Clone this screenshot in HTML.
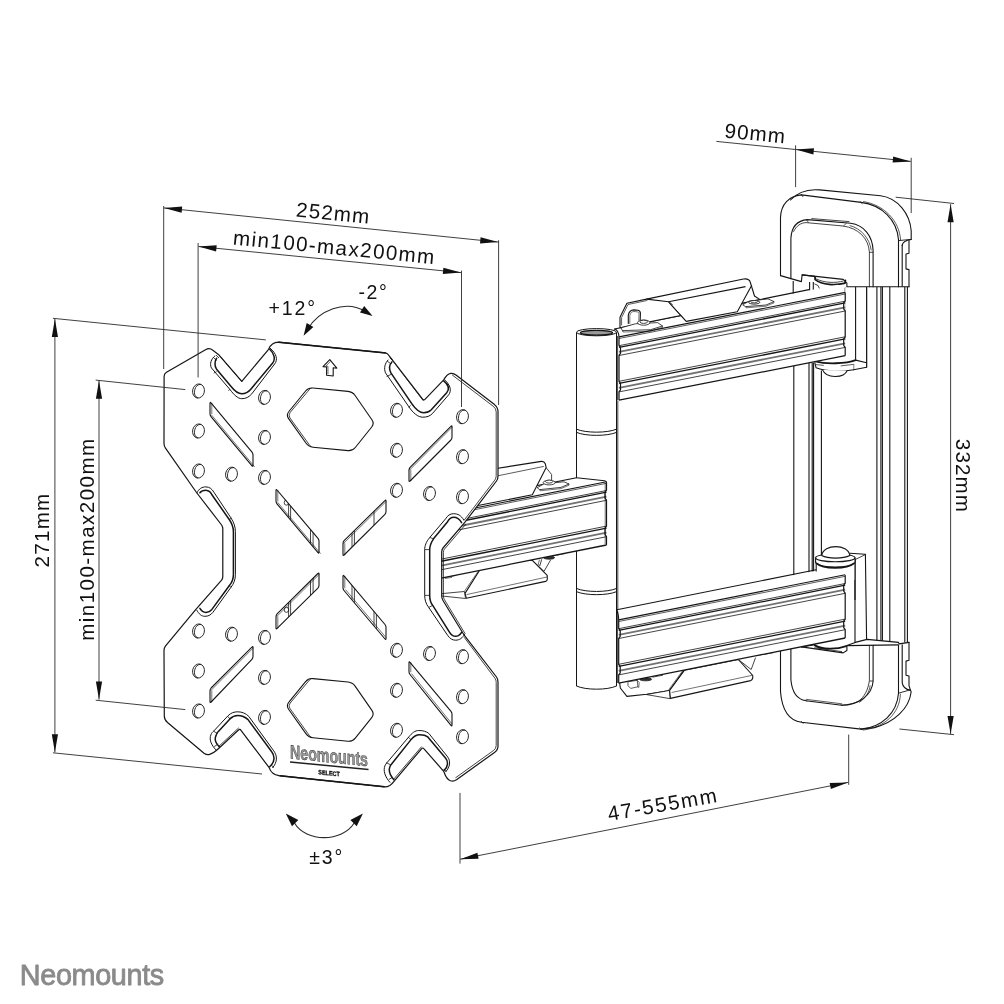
<!DOCTYPE html>
<html><head><meta charset="utf-8"><title>Neomounts dimensions</title>
<style>html,body{margin:0;padding:0;background:#fff}svg{display:block;filter:grayscale(1)}text{font-family:"Liberation Sans",sans-serif}</style></head>
<body>
<svg width="1004" height="1004" viewBox="0 0 1004 1004">
<rect width="1004" height="1004" fill="#fff"/>
<line x1="876.9" y1="286.5" x2="876.9" y2="643" stroke="#151515" stroke-width="1.1" />
<line x1="880.9" y1="286.5" x2="880.9" y2="643" stroke="#151515" stroke-width="1.1" />
<line x1="882.4" y1="286.5" x2="882.4" y2="643" stroke="#151515" stroke-width="1.1" />
<line x1="889.8" y1="286.5" x2="889.8" y2="643" stroke="#151515" stroke-width="1.1" />
<line x1="904.8" y1="286.5" x2="904.8" y2="643" stroke="#151515" stroke-width="1.1" />
<line x1="907.4" y1="286.5" x2="907.4" y2="643" stroke="#151515" stroke-width="1.1" />
<line x1="793.8" y1="365" x2="793.8" y2="580" stroke="#151515" stroke-width="1.1" />
<line x1="809" y1="362.7" x2="809" y2="577" stroke="#151515" stroke-width="1.1" />
<line x1="812.2" y1="362.7" x2="812.2" y2="577" stroke="#151515" stroke-width="1.1" />
<line x1="813.6" y1="362.7" x2="813.6" y2="577" stroke="#151515" stroke-width="1.1" />
<line x1="821.4" y1="370.4" x2="821.4" y2="556" stroke="#151515" stroke-width="1.1" />
<line x1="793.2" y1="281" x2="793.2" y2="300" stroke="#151515" stroke-width="1.1" />
<line x1="809.6" y1="282" x2="809.6" y2="296" stroke="#151515" stroke-width="1.1" />
<line x1="813.3" y1="282" x2="813.3" y2="296" stroke="#151515" stroke-width="1.1" />
<path d="M845.2,288 L845.2,340 M855.6,288 L855.6,360.1 M866.6,288 L866.6,367.2" fill="none" stroke="#151515" stroke-width="1.1" stroke-linejoin="round" stroke-linecap="round" />
<path d="M845.2,288 L866.6,288 L866.6,367.2 L853.6,369.8 L853.6,364 L845.2,362 Z" fill="white" stroke="white" stroke-width="0.01" stroke-linejoin="round" stroke-linecap="round" />
<path d="M855.6,287 L855.6,360.1 L866.6,362.7 M866.6,287 L866.6,367.2 L853.6,369.8 L853.6,364" fill="none" stroke="#151515" stroke-width="1.1" stroke-linejoin="round" stroke-linecap="round" />
<path d="M814.8,362 L816.1,367.8 C826,371.5 842,372 853.6,369.8 L853.6,364 L855.6,360.1 L845.2,352 L815,358 Z" fill="white" stroke="white" stroke-width="0.01" stroke-linejoin="round" stroke-linecap="round" />
<path d="M814.8,362.7 L816.1,367.8 C826,371.5 842,372 853.6,369.8" fill="none" stroke="#151515" stroke-width="1.1" stroke-linejoin="round" stroke-linecap="round" />
<path d="M815.4,361.4 C826,364.4 846,363.8 855.6,360.1" fill="none" stroke="#151515" stroke-width="1.8" stroke-linejoin="round" stroke-linecap="round" />
<line x1="816" y1="364.6" x2="823.8" y2="365.4" stroke="#151515" stroke-width="0.7" />
<line x1="840.7" y1="365.9" x2="853.6" y2="364.4" stroke="#151515" stroke-width="0.7" />
<path d="M822.6,369.9 C826,378.5 844,378.5 847.2,370.5" fill="white" stroke="#151515" stroke-width="1.1" stroke-linejoin="round" stroke-linecap="round" />
<path d="M849.9,553.3 L865.4,554.3 L866.6,642 L846,646 L846,560 Z" fill="white" stroke="white" stroke-width="0.01" stroke-linejoin="round" stroke-linecap="round" />
<path d="M849.9,553.3 L865.4,554.3 L866.6,640 M855,559.9 L855,643" fill="none" stroke="#151515" stroke-width="1.1" stroke-linejoin="round" stroke-linecap="round" />
<path d="M855,559.6 L865.4,554.6" fill="none" stroke="#151515" stroke-width="0.8" stroke-linejoin="round" stroke-linecap="round" />
<path d="M780.5,275.6 L780.5,217.4 C781,204 789,196 795,193.5 L819.7,189.9 L880.6,195.7 C898,198 910,214 911.2,230.8 L911.2,239.5 L909,240.5 L909,286.8 L846.9,286.8 L846.9,283.1 L843.2,279.4 L802.1,274.9 L801.4,281.6 Z" fill="white" stroke="white" stroke-width="0.01" stroke-linejoin="round" stroke-linecap="round" />
<path d="M790.5,200 C796,194 806,188.6 819.7,189.9 L880.6,195.7 C898,198 910,214 911.2,230.8 L911.2,239.5" fill="none" stroke="#151515" stroke-width="1.1" stroke-linejoin="round" stroke-linecap="round" />
<path d="M909,240.5 L909,253.2 L906,254 L906,268.9 L909,269.6 L909,286.8" fill="none" stroke="#151515" stroke-width="1.1" stroke-linejoin="round" stroke-linecap="round" />
<line x1="902.2" y1="244.5" x2="902.2" y2="286.8" stroke="#151515" stroke-width="1.1" />
<path d="M911.2,239.5 C905,240.3 902.5,242 902.2,245.5" fill="none" stroke="#151515" stroke-width="1.1" stroke-linejoin="round" stroke-linecap="round" />
<path d="M780.5,275.6 L780.5,217.4 C781,204 789,196 801.4,194.9 L861.1,202.4 C882,205 897,220 898.5,239.8 L898.5,286.8" fill="none" stroke="#151515" stroke-width="1.1" stroke-linejoin="round" stroke-linecap="round" />
<path d="M863.5,201.6 C884.5,205 899.6,221 900.6,240.2" fill="none" stroke="#151515" stroke-width="0.7" stroke-linejoin="round" stroke-linecap="round" />
<line x1="898.5" y1="240.6" x2="911" y2="239.4" stroke="#151515" stroke-width="0.9" />
<line x1="801" y1="194.2" x2="803.2" y2="197" stroke="#151515" stroke-width="0.8" />
<line x1="859.8" y1="201.5" x2="862.4" y2="203.8" stroke="#151515" stroke-width="0.8" />
<path d="M790.9,278.6 L790.9,238.3 C791.5,227 797,220.5 807.4,219.6 L850.7,223.3 C864,225 872.5,236 873.1,250.2 L873.1,286.8" fill="none" stroke="#151515" stroke-width="1.1" stroke-linejoin="round" stroke-linecap="round" />
<path d="M793.6,231.5 C796.5,225.5 801,222.8 806,222.6 L843,226 C858,228 868.5,238 869.4,252 L869.4,286.8" fill="none" stroke="#151515" stroke-width="0.8" stroke-linejoin="round" stroke-linecap="round" />
<path d="M811.8,218.6 L849,221.6" fill="none" stroke="#151515" stroke-width="0.8" stroke-linejoin="round" stroke-linecap="round" />
<path d="M850,225.6 C861,228.5 869.5,238 871.2,250" fill="none" stroke="#151515" stroke-width="0.7" stroke-linejoin="round" stroke-linecap="round" />
<line x1="869.4" y1="252.3" x2="873.1" y2="252.3" stroke="#151515" stroke-width="0.8" />
<line x1="806.5" y1="219.8" x2="808.5" y2="222.6" stroke="#151515" stroke-width="0.7" />
<line x1="846.5" y1="223.2" x2="843.4" y2="226" stroke="#151515" stroke-width="0.7" />
<path d="M780.5,275.6 L801.4,281.6 L802.1,274.9 L814.8,276.4" fill="none" stroke="#151515" stroke-width="1.1" stroke-linejoin="round" stroke-linecap="round" />
<path d="M802.1,274.9 L843.2,279.4 L846.9,283.1 L846.9,286.8 L909,286.8" fill="none" stroke="#151515" stroke-width="1.1" stroke-linejoin="round" stroke-linecap="round" />
<path d="M815,277 L815.2,279.6 C822,285 836,285.6 845,283.2 L845.4,280.4" fill="none" stroke="#151515" stroke-width="1.8" stroke-linejoin="round" stroke-linecap="round" />
<path d="M816.5,279.0 C824,283 836,283.3 843.2,281.0" fill="none" stroke="#151515" stroke-width="0.8" stroke-linejoin="round" stroke-linecap="round" />
<path d="M819.5,288.6 L818,285.5 L814.8,284" fill="none" stroke="#151515" stroke-width="0.8" stroke-linejoin="round" stroke-linecap="round" />
<path d="M780.5,646 L780.5,691.7 C782,710 789,720.5 801.4,722.3 L861.1,729.1 L874.6,727.6 C894,722.5 909,709 911.2,691.7 L910.4,690.2 L909,685.7 L909,642.4 L898.5,642.4 L867.1,639.4 L846.9,645.4 Z" fill="white" stroke="white" stroke-width="0.01" stroke-linejoin="round" stroke-linecap="round" />
<path d="M861.1,729.1 L874.6,727.6 C894,722.5 909,709 911.2,691.7 L910.4,690.2" fill="none" stroke="#151515" stroke-width="1.1" stroke-linejoin="round" stroke-linecap="round" />
<path d="M909,642.4 L909,660.3 L906,661.1 L906,675.3 L909,676 L909,685.7 L910.4,690.2" fill="none" stroke="#151515" stroke-width="1.1" stroke-linejoin="round" stroke-linecap="round" />
<path d="M902.2,644.7 L902.2,682.8 C903,687.5 906,689.5 910.4,690.2" fill="none" stroke="#151515" stroke-width="1.1" stroke-linejoin="round" stroke-linecap="round" />
<line x1="898.5" y1="644.7" x2="898.5" y2="693.2" stroke="#151515" stroke-width="1.1" />
<line x1="898.5" y1="693.2" x2="910.4" y2="689.8" stroke="#151515" stroke-width="0.9" />
<path d="M780.5,646 L780.5,691.7 C782,710 789,720.5 801.4,722.3 L861.1,729.1 C882,727 897,713 898.5,693.2" fill="none" stroke="#151515" stroke-width="1.1" stroke-linejoin="round" stroke-linecap="round" />
<path d="M863.5,730 C884.5,727.3 899.8,713.5 900.4,694.2" fill="none" stroke="#151515" stroke-width="0.7" stroke-linejoin="round" stroke-linecap="round" />
<line x1="801" y1="721" x2="803.4" y2="723.8" stroke="#151515" stroke-width="0.8" />
<line x1="859.5" y1="727.6" x2="862.2" y2="730.2" stroke="#151515" stroke-width="0.8" />
<path d="M846.9,645.4 L855.2,642.4 L867.1,639.4 L898.5,642.4 L899.2,643.9 L909,642.4" fill="none" stroke="#151515" stroke-width="1.1" stroke-linejoin="round" stroke-linecap="round" />
<line x1="846.9" y1="645.6" x2="898.5" y2="644.9" stroke="#151515" stroke-width="1.1" />
<path d="M790.9,648.4 L790.9,679.8 C792,692 797,699.5 805.9,700.7 L841.7,705.2 C858,705 872,696 873.1,681.3 L873.1,645.4" fill="none" stroke="#151515" stroke-width="1.1" stroke-linejoin="round" stroke-linecap="round" />
<path d="M869.4,645.4 L869.4,680.5 C868,690 864.5,697 858.2,701.4 C853,703.8 848,704.8 841.7,705.2" fill="none" stroke="#151515" stroke-width="0.8" stroke-linejoin="round" stroke-linecap="round" />
<path d="M859.6,702.2 C865.5,698 869.5,692 870.1,685.7" fill="none" stroke="#151515" stroke-width="0.7" stroke-linejoin="round" stroke-linecap="round" />
<line x1="869.4" y1="681" x2="873.1" y2="681" stroke="#151515" stroke-width="0.8" />
<line x1="805.3" y1="699.6" x2="807" y2="701.6" stroke="#151515" stroke-width="0.7" />
<path d="M806.5,699.4 L841.8,703.8" fill="none" stroke="#151515" stroke-width="0.7" stroke-linejoin="round" stroke-linecap="round" />
<line x1="840.6" y1="704.2" x2="842.4" y2="706" stroke="#151515" stroke-width="0.7" />
<path d="M801.4,646.9 L814.8,644.6" fill="none" stroke="#151515" stroke-width="1.1" stroke-linejoin="round" stroke-linecap="round" />
<path d="M801.4,646.9 L843.2,652.9 L846.9,650.5 L846.9,645.4" fill="none" stroke="#151515" stroke-width="1.1" stroke-linejoin="round" stroke-linecap="round" />
<path d="M814.8,647.8 L841.7,651.6" fill="none" stroke="#151515" stroke-width="0.8" stroke-linejoin="round" stroke-linecap="round" />
<path d="M814.8,645.4 C822,649.6 836,649.8 846.2,646.1" fill="none" stroke="#151515" stroke-width="1.8" stroke-linejoin="round" stroke-linecap="round" />
<path d="M619.3,680 L620.3,688 L626.9,696.4 L646.8,694.3 L669.8,690.6 L684.2,670 L660,672 Z" fill="white" stroke="#151515" stroke-width="1.1" stroke-linejoin="round" stroke-linecap="round" />
<path d="M628.3,681.6 L637.3,680.4 L637.9,686.8 L630.7,688.4 L628.3,686 Z" fill="none" stroke="#151515" stroke-width="0.7" stroke-linejoin="round" stroke-linecap="round" />
<path d="M637.3,680.4 L639.2,682.5 L638.8,687.5 L637.9,686.8" fill="none" stroke="#151515" stroke-width="0.6" stroke-linejoin="round" stroke-linecap="round" />
<ellipse cx="645.6" cy="679.3" rx="6" ry="1.5" fill="#333" stroke="#151515" stroke-width="0.8"/>
<line x1="652.5" y1="677.2" x2="663" y2="675.2" stroke="#151515" stroke-width="0.7" />
<path d="M646.8,694.5 L669.6,690.4 L670.3,698.3 Z" fill="white" stroke="#151515" stroke-width="0.8" stroke-linejoin="round" stroke-linecap="round" />
<path d="M684.5,670.2 L669.6,690.4 L670.4,698.4 L750.6,680.6 C752.4,680 753,678.5 752.8,675.5 L738.3,659.5 Z" fill="white" stroke="#151515" stroke-width="1.1" stroke-linejoin="round" stroke-linecap="round" />
<line x1="682.9" y1="670.4" x2="668.4" y2="690.2" stroke="#151515" stroke-width="0.6" />
<line x1="671.6" y1="692.5" x2="752.2" y2="675.3" stroke="#151515" stroke-width="0.6" />
<line x1="755.8" y1="655.6" x2="773.7" y2="652.2" stroke="#555" stroke-width="1.4" />
<path d="M738.3,659.5 L751.2,669.5 L755.4,658" fill="none" stroke="#151515" stroke-width="0.8" stroke-linejoin="round" stroke-linecap="round" />
<path d="M614.4,329 L619,336.9 L845.2,292.4 L838,284.8 Z" fill="white" stroke="white" stroke-width="0.01" stroke-linejoin="round" stroke-linecap="round" />
<line x1="614.4" y1="329" x2="809" y2="289.6" stroke="#151515" stroke-width="1.1" />
<path d="M619,336.9 L845.2,292.4 L845.2,355.7 L619,400.2 Z" fill="white" stroke="white" stroke-width="0.01" stroke-linejoin="round" stroke-linecap="round" />
<line x1="619" y1="336.9" x2="845.2" y2="292.4" stroke="#151515" stroke-width="1.1" />
<line x1="619" y1="338.5" x2="845.2" y2="294" stroke="#151515" stroke-width="0.7" />
<line x1="619" y1="345.7" x2="845.2" y2="301.2" stroke="#151515" stroke-width="0.8" />
<line x1="619" y1="347.4" x2="845.2" y2="302.9" stroke="#151515" stroke-width="1.3" />
<line x1="619" y1="351.9" x2="845.2" y2="307.4" stroke="#727272" stroke-width="1.8" />
<line x1="619" y1="355.5" x2="845.2" y2="311" stroke="#151515" stroke-width="0.8" />
<line x1="619" y1="381.3" x2="845.2" y2="336.8" stroke="#151515" stroke-width="0.8" />
<line x1="619" y1="383.4" x2="845.2" y2="338.9" stroke="#151515" stroke-width="1.3" />
<line x1="619" y1="387.8" x2="845.2" y2="343.3" stroke="#727272" stroke-width="1.8" />
<line x1="619" y1="391.9" x2="845.2" y2="347.4" stroke="#151515" stroke-width="0.8" />
<line x1="619" y1="400.2" x2="845.2" y2="355.7" stroke="#151515" stroke-width="1.3" />
<path d="M619,337.7 L619,345.4 L620.5,347.4 L620.5,353.4 L619,355.4 L619,381.4 L620.5,383.4 L620.5,389.9 L619,391.9 L619,399.7" fill="none" stroke="#151515" stroke-width="1.2" stroke-linejoin="round" stroke-linecap="round" />
<line x1="617.6" y1="336" x2="617.6" y2="400.5" stroke="#151515" stroke-width="0.8" />
<path d="M845.2,293.2 L845.2,300.9 L843.7,302.9 L843.7,308.9 L845.2,310.9 L845.2,336.9 L843.7,338.9 L843.7,345.4 L845.2,347.4 L845.2,355.2" fill="none" stroke="#151515" stroke-width="1.2" stroke-linejoin="round" stroke-linecap="round" />
<path d="M614.4,329 C617,329.5 618.6,332 619,336.9" fill="none" stroke="#151515" stroke-width="1.1" stroke-linejoin="round" stroke-linecap="round" />
<path d="M620,327.8 L620,317.2 L626.9,303.2 L646.5,299.1 L743.5,279 C747.5,278.5 749.5,279.5 750.2,282 L754.5,296 L760,299.6 Z" fill="white" stroke="#151515" stroke-width="1.1" stroke-linejoin="round" stroke-linecap="round" />
<path d="M621.6,325 L621.6,317.6 L628,304.5 L647,300.5" fill="none" stroke="#151515" stroke-width="0.7" stroke-linejoin="round" stroke-linecap="round" />
<path d="M668.6,301.8 L671.6,305.3 L686.2,321.4 L737.3,311.8 L751.6,285.5" fill="white" stroke="#151515" stroke-width="1.1" stroke-linejoin="round" stroke-linecap="round" />
<line x1="668.6" y1="301.8" x2="745.5" y2="286.6" stroke="#151515" stroke-width="1.1" />
<line x1="646.5" y1="299.1" x2="668.6" y2="301.8" stroke="#151515" stroke-width="1.1" />
<line x1="670.2" y1="302.2" x2="672.8" y2="305" stroke="#151515" stroke-width="0.6" />
<path d="M669.8,303.2 L685.4,320.4" fill="none" stroke="#151515" stroke-width="0.6" stroke-linejoin="round" stroke-linecap="round" />
<path d="M628.3,323.5 L628.3,315.1 C629,311.5 631,310 633.9,309.9 L638,310.3 C640,310.8 640.6,312 640.4,314 L640.2,320" fill="none" stroke="#151515" stroke-width="1.1" stroke-linejoin="round" stroke-linecap="round" />
<path d="M629.8,323.5 L629.8,315.6 C630.3,312.8 632,311.5 634,311.5 L637.5,311.9 C638.8,312.2 639,313 639,314.4 L638.8,320" fill="none" stroke="#151515" stroke-width="0.6" stroke-linejoin="round" stroke-linecap="round" />
<path d="M621.4,327.7 L635.3,323.8 L657.6,322.6 L662.5,326 L650.6,329.7 L622.8,330.6 Z" fill="white" stroke="#151515" stroke-width="0.8" stroke-linejoin="round" stroke-linecap="round" />
<path d="M622.8,330.6 L622.8,332 L650.6,331.2 L662.5,327.4 L662.5,326" fill="none" stroke="#151515" stroke-width="0.6" stroke-linejoin="round" stroke-linecap="round" />
<ellipse cx="643.7" cy="322.6" rx="6.2" ry="2.6" fill="white" stroke="#151515" stroke-width="0.8"/>
<ellipse cx="643.7" cy="321.8" rx="3.8" ry="1.6" fill="white" stroke="#151515" stroke-width="0.8"/>
<path d="M743,304.6 L749,301.2 L768,298.9 L774,301.6 L766,305 L746,306.6 Z" fill="white" stroke="#151515" stroke-width="0.8" stroke-linejoin="round" stroke-linecap="round" />
<path d="M746,306.6 L746,307.8 L766,306.2 L774,302.8 L774,301.6" fill="none" stroke="#151515" stroke-width="0.6" stroke-linejoin="round" stroke-linecap="round" />
<ellipse cx="754.2" cy="302.3" rx="5.6" ry="1.8" fill="white" stroke="#151515" stroke-width="0.9"/>
<ellipse cx="754.2" cy="301.7" rx="3.4" ry="1.2" fill="white" stroke="#151515" stroke-width="0.8"/>
<path d="M616.9,609.7 L618.7,619.9 L845.2,574.7 L838,566.5 Z" fill="white" stroke="white" stroke-width="0.01" stroke-linejoin="round" stroke-linecap="round" />
<line x1="616.9" y1="609.7" x2="816.2" y2="569.8" stroke="#151515" stroke-width="1.1" />
<path d="M816.2,562 L855,562 L855,580 L816.2,584 Z" fill="white" stroke="white" stroke-width="0.01" stroke-linejoin="round" stroke-linecap="round" />
<line x1="816.2" y1="562" x2="816.2" y2="571.5" stroke="#151515" stroke-width="1.1" />
<line x1="855" y1="559" x2="855" y2="600" stroke="#151515" stroke-width="1.1" />
<path d="M815.6,557.8 L815.6,562.6 C822,568.6 848,568.6 855,562.6 L855,557.8 Z" fill="white" stroke="#151515" stroke-width="1.1" stroke-linejoin="round" stroke-linecap="round" />
<path d="M816.6,563.4 C823,569.4 847,569.4 854,563.4" fill="none" stroke="#151515" stroke-width="1.8" stroke-linejoin="round" stroke-linecap="round" />
<ellipse cx="835.3" cy="557.8" rx="19.7" ry="4" fill="white" stroke="#151515" stroke-width="1.1"/>
<path d="M821.7,555.6 C823.5,543.6 848,543.6 849.9,555.6 C843,559 828,559 821.7,555.6 Z" fill="white" stroke="#151515" stroke-width="1.1" stroke-linejoin="round" stroke-linecap="round" />
<path d="M618.7,619.9 L845.2,574.7 L845.2,638 L618.7,683.2 Z" fill="white" stroke="white" stroke-width="0.01" stroke-linejoin="round" stroke-linecap="round" />
<line x1="618.7" y1="619.9" x2="845.2" y2="574.7" stroke="#151515" stroke-width="1.1" />
<line x1="618.7" y1="621.5" x2="845.2" y2="576.3" stroke="#151515" stroke-width="0.7" />
<line x1="618.7" y1="628.7" x2="845.2" y2="583.5" stroke="#151515" stroke-width="0.8" />
<line x1="618.7" y1="630.4" x2="845.2" y2="585.2" stroke="#151515" stroke-width="1.3" />
<line x1="618.7" y1="634.9" x2="845.2" y2="589.7" stroke="#727272" stroke-width="1.8" />
<line x1="618.7" y1="638.5" x2="845.2" y2="593.3" stroke="#151515" stroke-width="0.8" />
<line x1="618.7" y1="664.3" x2="845.2" y2="619.1" stroke="#151515" stroke-width="0.8" />
<line x1="618.7" y1="666.4" x2="845.2" y2="621.2" stroke="#151515" stroke-width="1.3" />
<line x1="618.7" y1="670.8" x2="845.2" y2="625.6" stroke="#727272" stroke-width="1.8" />
<line x1="618.7" y1="674.9" x2="845.2" y2="629.7" stroke="#151515" stroke-width="0.8" />
<line x1="618.7" y1="683.2" x2="845.2" y2="638" stroke="#151515" stroke-width="1.3" />
<path d="M618.7,620.7 L618.7,628.4 L620.2,630.4 L620.2,636.4 L618.7,638.4 L618.7,664.4 L620.2,666.4 L620.2,672.9 L618.7,674.9 L618.7,682.7" fill="none" stroke="#151515" stroke-width="1.2" stroke-linejoin="round" stroke-linecap="round" />
<line x1="617.4" y1="611" x2="617.4" y2="683" stroke="#151515" stroke-width="0.8" />
<path d="M845.2,575.5 L845.2,583.2 L843.7,585.2 L843.7,591.2 L845.2,593.2 L845.2,619.2 L843.7,621.2 L843.7,627.7 L845.2,629.7 L845.2,637.5" fill="none" stroke="#151515" stroke-width="1.2" stroke-linejoin="round" stroke-linecap="round" />
<path d="M616.9,609.7 L616.9,613 M616.9,609.7 C618,612 618.5,616 618.7,619.9" fill="none" stroke="#151515" stroke-width="1.1" stroke-linejoin="round" stroke-linecap="round" />
<line x1="617.8" y1="401" x2="617.8" y2="610" stroke="#151515" stroke-width="0.8" />
<path d="M576.5,332 L616.5,332 L616.5,686 L576.5,686 Z" fill="white" stroke="white" stroke-width="0.01" stroke-linejoin="round" stroke-linecap="round" />
<path d="M576.5,686 C584.5,690.5 608.5,690.5 616.5,686 Z" fill="white" stroke="white" stroke-width="0.01" stroke-linejoin="round" stroke-linecap="round" />
<line x1="576.5" y1="332" x2="576.5" y2="686" stroke="#151515" stroke-width="1.0" />
<line x1="616.5" y1="332" x2="616.5" y2="686" stroke="#151515" stroke-width="1.0" />
<path d="M576.5,686 C585.5,690.3 607.5,690.3 616.5,686" fill="none" stroke="#151515" stroke-width="1.0" stroke-linejoin="round" stroke-linecap="round" />
<ellipse cx="596.5" cy="332.2" rx="20" ry="3.6" fill="white" stroke="#151515" stroke-width="1.0"/>
<ellipse cx="596.5" cy="332.8" rx="16" ry="2.4" fill="#9a9a9a" stroke="#151515" stroke-width="1.3"/>
<path d="M576.5,429.2 C585.5,433.2 607.5,433.2 616.5,429.2" fill="none" stroke="#151515" stroke-width="1.0" stroke-linejoin="round" stroke-linecap="round" />
<path d="M576.5,432.4 C585.5,436.4 607.5,436.4 616.5,432.4" fill="none" stroke="#151515" stroke-width="1.0" stroke-linejoin="round" stroke-linecap="round" />
<path d="M576.5,588.5 C585.5,592.5 607.5,592.5 616.5,588.5" fill="none" stroke="#151515" stroke-width="1.0" stroke-linejoin="round" stroke-linecap="round" />
<path d="M576.5,591.7 C585.5,595.7 607.5,595.7 616.5,591.7" fill="none" stroke="#151515" stroke-width="1.0" stroke-linejoin="round" stroke-linecap="round" />
<ellipse cx="549.1" cy="557.6" rx="5.5" ry="1.6" fill="#333" stroke="#151515" stroke-width="0.8"/>
<line x1="555" y1="555.5" x2="566" y2="553.3" stroke="#151515" stroke-width="0.7" />
<path d="M541.6,559.6 L540,565.2" fill="none" stroke="#151515" stroke-width="0.8" stroke-linejoin="round" stroke-linecap="round" />
<path d="M532.3,560.4 L544,571.4 L550.6,560" fill="none" stroke="#151515" stroke-width="0.8" stroke-linejoin="round" stroke-linecap="round" />
<path d="M539.4,560 L538.2,564.5 L540,565.5" fill="none" stroke="#151515" stroke-width="0.6" stroke-linejoin="round" stroke-linecap="round" />
<path d="M480.4,569 L465,593.4 L466.3,598.2 L545.6,581.4 C547,581 547.5,579.8 547.3,578 L547.2,575.3 L532.3,560.4 L500,560 Z" fill="white" stroke="#151515" stroke-width="1.1" stroke-linejoin="round" stroke-linecap="round" />
<line x1="478.4" y1="571" x2="464.2" y2="591.6" stroke="#151515" stroke-width="0.6" />
<line x1="466.5" y1="594.6" x2="547" y2="577" stroke="#151515" stroke-width="0.6" />
<path d="M440,593.8 L464.3,591.5 L465.6,598.5 L440,595.8 Z" fill="white" stroke="#151515" stroke-width="0.8" stroke-linejoin="round" stroke-linecap="round" />
<line x1="444.9" y1="577.3" x2="456.5" y2="575.3" stroke="#151515" stroke-width="0.8" />
<line x1="444.9" y1="578.5" x2="452" y2="577.4" stroke="#151515" stroke-width="0.6" />
<path d="M430,507 L576.5,477.7 L606.5,481.7 L430,517 Z" fill="white" stroke="white" stroke-width="0.01" stroke-linejoin="round" stroke-linecap="round" />
<line x1="500" y1="493" x2="576.5" y2="477.7" stroke="#151515" stroke-width="1.1" />
<path d="M576.5,477.7 L604.5,480.8 C606,481 606.5,481.4 606.5,482.5" fill="none" stroke="#151515" stroke-width="1.1" stroke-linejoin="round" stroke-linecap="round" />
<path d="M430,517 L606.5,481.7 L606.5,545 L430,580.3 Z" fill="white" stroke="white" stroke-width="0.01" stroke-linejoin="round" stroke-linecap="round" />
<line x1="430" y1="517" x2="606.5" y2="481.7" stroke="#151515" stroke-width="1.1" />
<line x1="430" y1="518.6" x2="606.5" y2="483.3" stroke="#151515" stroke-width="0.7" />
<line x1="430" y1="525.8" x2="606.5" y2="490.5" stroke="#151515" stroke-width="0.8" />
<line x1="430" y1="527.5" x2="606.5" y2="492.2" stroke="#151515" stroke-width="1.3" />
<line x1="430" y1="532" x2="606.5" y2="496.7" stroke="#727272" stroke-width="1.8" />
<line x1="430" y1="535.6" x2="606.5" y2="500.3" stroke="#151515" stroke-width="0.8" />
<line x1="430" y1="561.4" x2="606.5" y2="526.1" stroke="#151515" stroke-width="0.8" />
<line x1="430" y1="563.5" x2="606.5" y2="528.2" stroke="#151515" stroke-width="1.3" />
<line x1="430" y1="567.9" x2="606.5" y2="532.6" stroke="#727272" stroke-width="1.8" />
<line x1="430" y1="572" x2="606.5" y2="536.7" stroke="#151515" stroke-width="0.8" />
<line x1="430" y1="580.3" x2="606.5" y2="545" stroke="#151515" stroke-width="1.3" />
<path d="M606.5,482.5 L606.5,490.2 L605,492.2 L605,498.2 L606.5,500.2 L606.5,526.2 L605,528.2 L605,534.7 L606.5,536.7 L606.5,544.5" fill="none" stroke="#151515" stroke-width="1.2" stroke-linejoin="round" stroke-linecap="round" />
<line x1="605.2" y1="483" x2="605.2" y2="544" stroke="#151515" stroke-width="0.6" />
<path d="M490,469.5 L541.3,461.4 C543.5,461.2 544.6,462 545.3,463.8 L546.2,467.6 L532.3,494.8 L478,505.5 L478,470 Z" fill="white" stroke="#151515" stroke-width="1.1" stroke-linejoin="round" stroke-linecap="round" />
<line x1="490" y1="477.4" x2="543.8" y2="466.4" stroke="#151515" stroke-width="0.7" />
<path d="M546.4,468 L551.6,474.5 L551.6,480.2" fill="none" stroke="#151515" stroke-width="0.8" stroke-linejoin="round" stroke-linecap="round" />
<path d="M537.5,487.5 L544.5,483.6 L564,481.8 L569,484 L561,487.4 L540,489.6 Z" fill="white" stroke="#151515" stroke-width="0.8" stroke-linejoin="round" stroke-linecap="round" />
<path d="M540,489.6 L540,490.8 L561,488.6 L569,485.2 L569,484" fill="none" stroke="#151515" stroke-width="0.6" stroke-linejoin="round" stroke-linecap="round" />
<ellipse cx="549.2" cy="482.6" rx="6" ry="2.3" fill="white" stroke="#151515" stroke-width="0.8"/>
<ellipse cx="549.2" cy="481.6" rx="3.6" ry="1.5" fill="white" stroke="#151515" stroke-width="0.8"/>
<path d="M164.1,376.5 Q164.1,373.6 166.5,372.2 L205.5,349.8 Q209.5,347.4 212.5,350 L218.4,354.4 L241.8,381.3 L268.6,349.3 Q271.5,342.3 278.5,342.2 L385.5,352.9 Q387.5,353.2 389,355.5 L422.6,399.2 Q423.8,400.6 425.2,399.2 L443.7,379.9 Q447,374 450.7,373.4 Q453.5,373 456,375 L494.5,404.6 Q498,407.5 498,411.5 L498,476 Q498,479 496.5,481 L464.6,522.7 L443,548 Q441.7,549.6 441.7,552 L441.7,596 Q441.7,598.4 443,600.5 L463.6,634.3 L496.5,677 Q498,679 498,682 L498,746 Q498,750 494.5,752.4 L456.5,779.8 Q453.5,781.8 450.5,780.8 Q446.5,779 444.6,773.5 L443.7,771.3 L424,748.8 Q422.8,747.2 421.5,748.8 L394.4,780.8 Q390,786.9 384.9,786.9 L279,775.6 Q271.5,774.2 269.6,768.6 L269.2,767.7 L241,730.4 Q239.8,728.7 238.5,730 L219.4,747.8 Q213.5,753.5 209,754.6 Q206.5,755 204,753.2 L167.5,722.5 Q164.3,719.8 164.3,716 L164.0,650.5 Q164,647.8 165.6,645.8 L195.9,609.4 L221.6,580.2 Q222.8,578.7 222.8,576.5 L222.8,529 Q222.8,526.7 221.6,525 L196.5,492.5 L165.5,448.2 Q164,446 164,443.5 Z" fill="white" stroke="#151515" stroke-width="1.2" stroke-linejoin="round" stroke-linecap="round" />
<path d="M452.5,375.2 L493.4,406.4 Q496.2,408.6 496.2,412 L496.2,475.6 Q496.2,478 495,479.8 L464,520.4" fill="none" stroke="#151515" stroke-width="0.8" stroke-linejoin="round" stroke-linecap="round" />
<path d="M464.4,637.6 L494.9,678.2 Q496.2,680 496.2,682.4 L496.2,745.4 Q496.2,748.6 493.4,750.6 L455.8,777.6" fill="none" stroke="#151515" stroke-width="0.8" stroke-linejoin="round" stroke-linecap="round" />
<line x1="278.5" y1="342.3" x2="385.8" y2="353" stroke="#151515" stroke-width="1.6" />
<line x1="279.5" y1="775.8" x2="384.6" y2="786.8" stroke="#151515" stroke-width="1.5" />
<path d="M214.9,355.9 C211,359 209.5,364 211.4,367.9 L229.8,389.3 C234,395 238,398.7 241.8,398.7 C246,398.7 249,397 251.8,393.8 L274.7,363.9 C277.8,360 277,354 270.2,348.2" fill="none" stroke="#151515" stroke-width="1.0" stroke-linejoin="round" stroke-linecap="round" />
<path d="M216.6,358.2 C214.5,361 214.5,366 216.4,368.9 L231.3,386.8 C235,391.5 238.5,393.8 241.8,393.8 C245.5,393.8 248.5,392 250.8,389.3 L272.7,362.9 C275.5,359.5 274.5,353.5 269.7,349.2" fill="none" stroke="#151515" stroke-width="1.5" stroke-linejoin="round" stroke-linecap="round" />
<line x1="219.6" y1="355.8" x2="241.9" y2="381.6" stroke="#151515" stroke-width="0.8" />
<line x1="213.3" y1="357.5" x2="216.6" y2="360.4" stroke="#151515" stroke-width="0.8" />
<line x1="216" y1="355" x2="219" y2="358" stroke="#151515" stroke-width="0.8" />
<line x1="213.8" y1="373.2" x2="216.6" y2="371.6" stroke="#151515" stroke-width="0.8" />
<line x1="228.4" y1="390.6" x2="230" y2="389.2" stroke="#151515" stroke-width="0.8" />
<path d="M388,360 C385,363.4 383.6,368 385.5,372.9 L408.9,406.8 C413,413 418,417.2 422.8,417.2 C427,417.2 430,416 432.3,413.7 L448.7,394.8 C451.5,391 451,385.5 444.7,379.9" fill="none" stroke="#151515" stroke-width="1.0" stroke-linejoin="round" stroke-linecap="round" />
<path d="M391.9,361.9 C389.5,364.5 389,369 390.9,372.9 L411.9,403.8 C415.5,409 419.5,412.7 423.8,412.7 C427,412.7 429.5,411.5 431.3,409.7 L446.7,392.8 C449.3,389.5 448.8,385 443.7,380.9" fill="none" stroke="#151515" stroke-width="1.5" stroke-linejoin="round" stroke-linecap="round" />
<line x1="388.6" y1="355.5" x2="423.4" y2="400.8" stroke="#151515" stroke-width="0.8" />
<line x1="387.2" y1="361.2" x2="390.6" y2="363.6" stroke="#151515" stroke-width="0.8" />
<line x1="389.8" y1="358" x2="393" y2="360.6" stroke="#151515" stroke-width="0.8" />
<line x1="386.6" y1="376.6" x2="391.4" y2="374.2" stroke="#151515" stroke-width="0.8" />
<line x1="408.4" y1="407.2" x2="410.6" y2="405.6" stroke="#151515" stroke-width="0.8" />
<path d="M215.9,749.8 C211,745 209,739 210.9,734.9 C211.5,733 212.5,732 213.9,730.9 L227.9,715.9 C231,712.8 234,711.8 237.8,711.8 C242,711.8 246,713.5 248.8,716.4 L273.7,750.8 C277.5,756 277.5,762 272.7,767.7" fill="none" stroke="#151515" stroke-width="1.0" stroke-linejoin="round" stroke-linecap="round" />
<path d="M219.4,746.8 C216,743.5 214.5,739 215.9,735.9 C216.5,734 217,733 217.9,731.9 L229.9,718.9 C232.5,716.3 235,715.4 237.8,715.4 C241.5,715.4 245,716.8 247.8,719.4 L271.7,751.8 C275,756 275,762 269.7,766.7" fill="none" stroke="#151515" stroke-width="1.5" stroke-linejoin="round" stroke-linecap="round" />
<line x1="218.5" y1="746.6" x2="238.8" y2="727.8" stroke="#151515" stroke-width="0.8" />
<line x1="213.6" y1="731.2" x2="217.6" y2="733.6" stroke="#151515" stroke-width="0.8" />
<line x1="227.6" y1="716.2" x2="230.2" y2="719.2" stroke="#151515" stroke-width="0.8" />
<line x1="214.2" y1="746.6" x2="218.2" y2="744" stroke="#151515" stroke-width="0.8" />
<line x1="271.4" y1="765.4" x2="274" y2="767.4" stroke="#151515" stroke-width="0.8" />
<path d="M389.9,782.3 C385,777 383,770.5 384.9,765.8 C385.5,764.5 386,763.7 386.9,762.8 L408.8,736.9 C412,733 415,730.5 418.8,730.5 C423,730.5 426.5,731.5 428.8,733.4 L447.7,756.9 C450.5,761 450.5,766.5 445.7,771.8" fill="none" stroke="#151515" stroke-width="1.0" stroke-linejoin="round" stroke-linecap="round" />
<path d="M393.9,779.8 C390,775.5 388.5,770.5 389.9,766.8 C390.3,765.8 390.8,765 391.4,764.3 L410.8,739.9 C413.5,736.5 416.5,734.7 419.8,734.7 C423,734.7 426,735.5 427.8,736.9 L445.7,758.3 C448.3,761.5 448.3,766.5 444.2,770.3" fill="none" stroke="#151515" stroke-width="1.5" stroke-linejoin="round" stroke-linecap="round" />
<line x1="393.4" y1="779.6" x2="421.6" y2="746.6" stroke="#151515" stroke-width="0.8" />
<line x1="386.2" y1="762.6" x2="391" y2="765" stroke="#151515" stroke-width="0.8" />
<line x1="408.4" y1="737.2" x2="411.2" y2="740" stroke="#151515" stroke-width="0.8" />
<line x1="388.8" y1="779.6" x2="392.8" y2="777" stroke="#151515" stroke-width="0.8" />
<line x1="443.6" y1="769.4" x2="446.4" y2="771.4" stroke="#151515" stroke-width="0.8" />
<path d="M196.9,492.8 C199,488.5 202,486.9 205.9,486.9 C209.5,486.9 212,489 213.9,492.2 L230.8,517.7 C234,522.5 235.4,527 235.4,531.7 L235.4,574.5 C235.4,579.5 234,583.5 230.8,587.5 L212.9,612.4 C210.5,615.3 208,616.3 204.9,616.3 C201.5,616.3 198.8,614 196.9,610.4" fill="none" stroke="#151515" stroke-width="1.0" stroke-linejoin="round" stroke-linecap="round" />
<path d="M199.9,492.8 C201.5,490.8 204,490.2 206.9,490.4 C209.5,490.8 211,492.5 211.9,494.8 L229.4,519.7 C232,523.5 233.4,527.5 233.4,531.7 L233.4,574.5 C233.4,578.5 232,582.5 229.4,585.5 L211.9,609.4 C210,611.8 208,612.4 205.9,612.4 C203.5,612.4 201.5,611 199.9,608.4" fill="none" stroke="#151515" stroke-width="1.5" stroke-linejoin="round" stroke-linecap="round" />
<line x1="231" y1="517.4" x2="229.6" y2="519.8" stroke="#151515" stroke-width="0.8" />
<line x1="231" y1="587.6" x2="229.4" y2="585.6" stroke="#151515" stroke-width="0.8" />
<path d="M463.6,519.7 C461,515.5 458,513.7 453.6,513.7 C450,513.7 447.5,515.5 445.7,518.7 L429.7,537.6 C426,542 424.7,546 424.7,549.6 L424.7,595.4 C424.7,600 426,604 428.7,607.4 L447.6,635.3 C450,638.8 452.5,640.2 455.6,640.2 C459.5,640.2 462.5,638 464.6,634.3" fill="none" stroke="#151515" stroke-width="1.0" stroke-linejoin="round" stroke-linecap="round" />
<path d="M461.6,522.7 C459.5,519 457,517.3 453.6,517.3 C450.8,517.3 449,519 447.6,521.7 L433.7,538.6 C431,542.5 429.7,546 429.7,549.6 L429.7,595.4 C429.7,599 430.5,602.5 432.7,605.4 L449.6,632.3 C451.5,635.3 453.5,636.3 455.6,636.3 C458,636.3 460,634.8 461.6,632.3" fill="none" stroke="#151515" stroke-width="1.5" stroke-linejoin="round" stroke-linecap="round" />
<path d="M465.8,524.2 L444.4,549.2 Q443.4,550.5 443.4,552.5 L443.4,596 Q443.4,598 444.5,599.8 L465,633.5" fill="none" stroke="#151515" stroke-width="0.8" stroke-linejoin="round" stroke-linecap="round" />
<line x1="424.7" y1="549.6" x2="429.7" y2="549.6" stroke="#151515" stroke-width="0.8" />
<line x1="424.7" y1="595.4" x2="429.7" y2="595.4" stroke="#151515" stroke-width="0.8" />
<line x1="429.6" y1="537.4" x2="433.6" y2="538.8" stroke="#151515" stroke-width="0.8" />
<line x1="428.6" y1="607.6" x2="432.8" y2="605.2" stroke="#151515" stroke-width="0.8" />
<ellipse cx="264.5" cy="477.4" rx="5.9" ry="7.1" fill="none" stroke="#151515" stroke-width="0.85" transform="rotate(12 264.5 477.4)"/>
<path d="M265.5,470.4 A5.9,7.1 0 0 0 265.5,484.4" fill="none" stroke="#151515" stroke-width="0.8" transform="rotate(12 264.5 477.4)"/>
<ellipse cx="264.5" cy="437.4" rx="5.9" ry="7.1" fill="none" stroke="#151515" stroke-width="0.85" transform="rotate(12 264.5 437.4)"/>
<path d="M265.5,430.4 A5.9,7.1 0 0 0 265.5,444.4" fill="none" stroke="#151515" stroke-width="0.8" transform="rotate(12 264.5 437.4)"/>
<ellipse cx="264.5" cy="397.4" rx="5.9" ry="7.1" fill="none" stroke="#151515" stroke-width="0.85" transform="rotate(12 264.5 397.4)"/>
<path d="M265.5,390.4 A5.9,7.1 0 0 0 265.5,404.4" fill="none" stroke="#151515" stroke-width="0.8" transform="rotate(12 264.5 397.4)"/>
<ellipse cx="198.5" cy="471" rx="5.9" ry="7.1" fill="none" stroke="#151515" stroke-width="0.85" transform="rotate(12 198.5 471)"/>
<path d="M199.5,464 A5.9,7.1 0 0 0 199.5,478" fill="none" stroke="#151515" stroke-width="0.8" transform="rotate(12 198.5 471)"/>
<ellipse cx="198.5" cy="431" rx="5.9" ry="7.1" fill="none" stroke="#151515" stroke-width="0.85" transform="rotate(12 198.5 431)"/>
<path d="M199.5,424 A5.9,7.1 0 0 0 199.5,438" fill="none" stroke="#151515" stroke-width="0.8" transform="rotate(12 198.5 431)"/>
<ellipse cx="198.5" cy="391" rx="5.9" ry="7.1" fill="none" stroke="#151515" stroke-width="0.85" transform="rotate(12 198.5 391)"/>
<path d="M199.5,384 A5.9,7.1 0 0 0 199.5,398" fill="none" stroke="#151515" stroke-width="0.8" transform="rotate(12 198.5 391)"/>
<ellipse cx="231.5" cy="474.2" rx="5.9" ry="7.1" fill="none" stroke="#151515" stroke-width="0.85" transform="rotate(12 231.5 474.2)"/>
<path d="M232.5,467.2 A5.9,7.1 0 0 0 232.5,481.2" fill="none" stroke="#151515" stroke-width="0.8" transform="rotate(12 231.5 474.2)"/>
<ellipse cx="264.5" cy="637.4" rx="5.9" ry="7.1" fill="none" stroke="#151515" stroke-width="0.85" transform="rotate(12 264.5 637.4)"/>
<path d="M265.5,630.4 A5.9,7.1 0 0 0 265.5,644.4" fill="none" stroke="#151515" stroke-width="0.8" transform="rotate(12 264.5 637.4)"/>
<ellipse cx="264.5" cy="677.4" rx="5.9" ry="7.1" fill="none" stroke="#151515" stroke-width="0.85" transform="rotate(12 264.5 677.4)"/>
<path d="M265.5,670.4 A5.9,7.1 0 0 0 265.5,684.4" fill="none" stroke="#151515" stroke-width="0.8" transform="rotate(12 264.5 677.4)"/>
<ellipse cx="264.5" cy="717.4" rx="5.9" ry="7.1" fill="none" stroke="#151515" stroke-width="0.85" transform="rotate(12 264.5 717.4)"/>
<path d="M265.5,710.4 A5.9,7.1 0 0 0 265.5,724.4" fill="none" stroke="#151515" stroke-width="0.8" transform="rotate(12 264.5 717.4)"/>
<ellipse cx="198.5" cy="631" rx="5.9" ry="7.1" fill="none" stroke="#151515" stroke-width="0.85" transform="rotate(12 198.5 631)"/>
<path d="M199.5,624 A5.9,7.1 0 0 0 199.5,638" fill="none" stroke="#151515" stroke-width="0.8" transform="rotate(12 198.5 631)"/>
<ellipse cx="198.5" cy="671" rx="5.9" ry="7.1" fill="none" stroke="#151515" stroke-width="0.85" transform="rotate(12 198.5 671)"/>
<path d="M199.5,664 A5.9,7.1 0 0 0 199.5,678" fill="none" stroke="#151515" stroke-width="0.8" transform="rotate(12 198.5 671)"/>
<ellipse cx="198.5" cy="711" rx="5.9" ry="7.1" fill="none" stroke="#151515" stroke-width="0.85" transform="rotate(12 198.5 711)"/>
<path d="M199.5,704 A5.9,7.1 0 0 0 199.5,718" fill="none" stroke="#151515" stroke-width="0.8" transform="rotate(12 198.5 711)"/>
<ellipse cx="231.5" cy="634.2" rx="5.9" ry="7.1" fill="none" stroke="#151515" stroke-width="0.85" transform="rotate(12 231.5 634.2)"/>
<path d="M232.5,627.2 A5.9,7.1 0 0 0 232.5,641.2" fill="none" stroke="#151515" stroke-width="0.8" transform="rotate(12 231.5 634.2)"/>
<ellipse cx="396.5" cy="490.3" rx="5.9" ry="7.1" fill="none" stroke="#151515" stroke-width="0.85" transform="rotate(12 396.5 490.3)"/>
<path d="M397.5,483.3 A5.9,7.1 0 0 0 397.5,497.3" fill="none" stroke="#151515" stroke-width="0.8" transform="rotate(12 396.5 490.3)"/>
<ellipse cx="396.5" cy="450.3" rx="5.9" ry="7.1" fill="none" stroke="#151515" stroke-width="0.85" transform="rotate(12 396.5 450.3)"/>
<path d="M397.5,443.3 A5.9,7.1 0 0 0 397.5,457.3" fill="none" stroke="#151515" stroke-width="0.8" transform="rotate(12 396.5 450.3)"/>
<ellipse cx="396.5" cy="410.3" rx="5.9" ry="7.1" fill="none" stroke="#151515" stroke-width="0.85" transform="rotate(12 396.5 410.3)"/>
<path d="M397.5,403.3 A5.9,7.1 0 0 0 397.5,417.3" fill="none" stroke="#151515" stroke-width="0.8" transform="rotate(12 396.5 410.3)"/>
<ellipse cx="462.5" cy="496.7" rx="5.9" ry="7.1" fill="none" stroke="#151515" stroke-width="0.85" transform="rotate(12 462.5 496.7)"/>
<path d="M463.5,489.7 A5.9,7.1 0 0 0 463.5,503.7" fill="none" stroke="#151515" stroke-width="0.8" transform="rotate(12 462.5 496.7)"/>
<ellipse cx="462.5" cy="456.7" rx="5.9" ry="7.1" fill="none" stroke="#151515" stroke-width="0.85" transform="rotate(12 462.5 456.7)"/>
<path d="M463.5,449.7 A5.9,7.1 0 0 0 463.5,463.7" fill="none" stroke="#151515" stroke-width="0.8" transform="rotate(12 462.5 456.7)"/>
<ellipse cx="462.5" cy="416.7" rx="5.9" ry="7.1" fill="none" stroke="#151515" stroke-width="0.85" transform="rotate(12 462.5 416.7)"/>
<path d="M463.5,409.7 A5.9,7.1 0 0 0 463.5,423.7" fill="none" stroke="#151515" stroke-width="0.8" transform="rotate(12 462.5 416.7)"/>
<ellipse cx="429.5" cy="493.5" rx="5.9" ry="7.1" fill="none" stroke="#151515" stroke-width="0.85" transform="rotate(12 429.5 493.5)"/>
<path d="M430.5,486.5 A5.9,7.1 0 0 0 430.5,500.5" fill="none" stroke="#151515" stroke-width="0.8" transform="rotate(12 429.5 493.5)"/>
<ellipse cx="396.5" cy="650.3" rx="5.9" ry="7.1" fill="none" stroke="#151515" stroke-width="0.85" transform="rotate(12 396.5 650.3)"/>
<path d="M397.5,643.3 A5.9,7.1 0 0 0 397.5,657.3" fill="none" stroke="#151515" stroke-width="0.8" transform="rotate(12 396.5 650.3)"/>
<ellipse cx="396.5" cy="690.3" rx="5.9" ry="7.1" fill="none" stroke="#151515" stroke-width="0.85" transform="rotate(12 396.5 690.3)"/>
<path d="M397.5,683.3 A5.9,7.1 0 0 0 397.5,697.3" fill="none" stroke="#151515" stroke-width="0.8" transform="rotate(12 396.5 690.3)"/>
<ellipse cx="396.5" cy="730.3" rx="5.9" ry="7.1" fill="none" stroke="#151515" stroke-width="0.85" transform="rotate(12 396.5 730.3)"/>
<path d="M397.5,723.3 A5.9,7.1 0 0 0 397.5,737.3" fill="none" stroke="#151515" stroke-width="0.8" transform="rotate(12 396.5 730.3)"/>
<ellipse cx="462.5" cy="656.7" rx="5.9" ry="7.1" fill="none" stroke="#151515" stroke-width="0.85" transform="rotate(12 462.5 656.7)"/>
<path d="M463.5,649.7 A5.9,7.1 0 0 0 463.5,663.7" fill="none" stroke="#151515" stroke-width="0.8" transform="rotate(12 462.5 656.7)"/>
<ellipse cx="462.5" cy="696.7" rx="5.9" ry="7.1" fill="none" stroke="#151515" stroke-width="0.85" transform="rotate(12 462.5 696.7)"/>
<path d="M463.5,689.7 A5.9,7.1 0 0 0 463.5,703.7" fill="none" stroke="#151515" stroke-width="0.8" transform="rotate(12 462.5 696.7)"/>
<ellipse cx="462.5" cy="736.7" rx="5.9" ry="7.1" fill="none" stroke="#151515" stroke-width="0.85" transform="rotate(12 462.5 736.7)"/>
<path d="M463.5,729.7 A5.9,7.1 0 0 0 463.5,743.7" fill="none" stroke="#151515" stroke-width="0.8" transform="rotate(12 462.5 736.7)"/>
<ellipse cx="429.5" cy="653.5" rx="5.9" ry="7.1" fill="none" stroke="#151515" stroke-width="0.85" transform="rotate(12 429.5 653.5)"/>
<path d="M430.5,646.5 A5.9,7.1 0 0 0 430.5,660.5" fill="none" stroke="#151515" stroke-width="0.8" transform="rotate(12 429.5 653.5)"/>
<path d="M288.6,418.6 Q286,414.9 288.9,411.5 L305.6,391 Q308.5,387.5 313,388 L348,391.4 Q352.5,391.8 355.1,395.5 L371.9,419.8 Q374.5,423.5 371.7,427 L355.3,447.5 Q352.5,451 348,450.6 L313,447.2 Q308.5,446.7 305.9,443 Z" fill="none" stroke="#151515" stroke-width="1.1" stroke-linejoin="round" stroke-linecap="round" />
<path d="M311,388.4 L310.5,388.5 Q310,388.7 307.8,391.4 L290.2,412.4 Q288,415.1 290,418 L308,443 Q310,445.9 310.5,446.1 L311,446.4" fill="none" stroke="#151515" stroke-width="0.8" stroke-linejoin="round" stroke-linecap="round" />
<path d="M288.6,709.2 Q286,705.5 288.9,702.1 L305.6,681.6 Q308.5,678.1 313,678.6 L348,682 Q352.5,682.4 355.1,686.1 L371.9,710.4 Q374.5,714.1 371.7,717.6 L355.3,738.1 Q352.5,741.6 348,741.2 L313,737.8 Q308.5,737.3 305.9,733.6 Z" fill="none" stroke="#151515" stroke-width="1.1" stroke-linejoin="round" stroke-linecap="round" />
<path d="M311,679 L310.5,679.1 Q310,679.3 307.8,682 L290.2,703 Q288,705.7 290,708.6 L308,733.6 Q310,736.5 310.5,736.7 L311,737" fill="none" stroke="#151515" stroke-width="0.8" stroke-linejoin="round" stroke-linecap="round" />
<path d="M210,403.3 Q210,401.7 211,402.9 L252,452.1 Q253,453.3 253,454.9 L253,465.4 Q253,467 252,465.8 L211,416.6 Q210,415.4 210,413.8 Z" fill="none" stroke="#151515" stroke-width="1.1" stroke-linejoin="round" stroke-linecap="round" />
<path d="M210,690.8 Q210,689.2 211.1,688 L251.9,647.1 Q253,645.9 253,647.5 L253,656.5 Q253,658.1 251.9,659.3 L211.1,702 Q210,703.2 210,701.6 Z" fill="none" stroke="#151515" stroke-width="1.1" stroke-linejoin="round" stroke-linecap="round" />
<path d="M276,490.4 Q276,488.8 277,490 L318,538.3 Q319,539.5 319,541.1 L319,552.2 Q319,553.8 318,552.6 L277,503.8 Q276,502.6 276,501 Z" fill="none" stroke="#151515" stroke-width="1.1" stroke-linejoin="round" stroke-linecap="round" />
<path d="M276,616.7 Q276,615.1 277.1,613.9 L317.9,573.5 Q319,572.3 319,573.9 L319,585.3 Q319,586.9 317.9,588.1 L277.1,628.4 Q276,629.6 276,628 Z" fill="none" stroke="#151515" stroke-width="1.1" stroke-linejoin="round" stroke-linecap="round" />
<path d="M452,426.7 Q452,425.1 450.9,426.3 L410.1,467.3 Q409,468.5 409,470.1 L409,480.6 Q409,482.2 410.1,481 L450.9,440 Q452,438.8 452,437.2 Z" fill="none" stroke="#151515" stroke-width="1.1" stroke-linejoin="round" stroke-linecap="round" />
<path d="M452,714.2 Q452,712.6 451,711.4 L410,662.3 Q409,661.1 409,662.7 L409,671.7 Q409,673.3 410,674.5 L451,725.4 Q452,726.6 452,725 Z" fill="none" stroke="#151515" stroke-width="1.1" stroke-linejoin="round" stroke-linecap="round" />
<path d="M386,501 Q386,499.4 384.9,500.6 L344.1,540.7 Q343,541.9 343,543.5 L343,554.6 Q343,556.2 344.1,555 L384.9,514.4 Q386,513.2 386,511.6 Z" fill="none" stroke="#151515" stroke-width="1.1" stroke-linejoin="round" stroke-linecap="round" />
<path d="M386,627.3 Q386,625.7 385,624.5 L344,575.9 Q343,574.7 343,576.3 L343,587.7 Q343,589.3 344,590.5 L385,639 Q386,640.2 386,638.6 Z" fill="none" stroke="#151515" stroke-width="1.1" stroke-linejoin="round" stroke-linecap="round" />
<line x1="211.6" y1="415.1" x2="254.6" y2="466.8" stroke="#151515" stroke-width="0.6" />
<line x1="277.6" y1="502.3" x2="320.6" y2="553.6" stroke="#151515" stroke-width="0.6" />
<line x1="211.8" y1="403" x2="211.8" y2="414.3" stroke="#151515" stroke-width="0.6" />
<line x1="277.8" y1="490.1" x2="277.8" y2="501.5" stroke="#151515" stroke-width="0.6" />
<line x1="211.8" y1="690.5" x2="211.8" y2="702.1" stroke="#151515" stroke-width="0.6" />
<line x1="277.8" y1="616.4" x2="277.8" y2="628.5" stroke="#151515" stroke-width="0.6" />
<line x1="410.8" y1="469.8" x2="410.8" y2="481.1" stroke="#151515" stroke-width="0.6" />
<line x1="344.8" y1="543.2" x2="344.8" y2="555.1" stroke="#151515" stroke-width="0.6" />
<line x1="410.8" y1="662.4" x2="410.8" y2="672.2" stroke="#151515" stroke-width="0.6" />
<line x1="344.8" y1="576" x2="344.8" y2="588.2" stroke="#151515" stroke-width="0.6" />
<line x1="452.3" y1="427" x2="409.3" y2="470.3" stroke="#151515" stroke-width="0.6" />
<line x1="386.3" y1="501.3" x2="343.3" y2="543.7" stroke="#151515" stroke-width="0.6" />
<line x1="210.6" y1="690.8" x2="253.6" y2="647.6" stroke="#151515" stroke-width="0.6" />
<line x1="276.6" y1="616.7" x2="319.6" y2="574" stroke="#151515" stroke-width="0.6" />
<line x1="451.8" y1="723.7" x2="411.5" y2="673.6" stroke="#151515" stroke-width="0.6" />
<line x1="385.8" y1="637.3" x2="345.5" y2="589.6" stroke="#151515" stroke-width="0.6" />
<clipPath id="slotclip"><path d="M276,488.8 L319,539.5 L319,553.8 L276,502.6 Z"/><path d="M276,615.1 L319,572.3 L319,586.9 L276,629.6 Z"/><path d="M386,499.4 L343,541.9 L343,556.2 L386,513.2 Z"/><path d="M386,625.7 L343,574.7 L343,589.3 L386,640.2 Z"/></clipPath>
<g clip-path="url(#slotclip)">
<line x1="288.6" y1="480" x2="288.6" y2="540" stroke="#151515" stroke-width="0.8" />
<line x1="290.6" y1="480" x2="290.6" y2="540" stroke="#151515" stroke-width="0.8" />
<ellipse cx="286.4" cy="502.6" rx="2.2" ry="2.6" fill="none" stroke="#151515" stroke-width="0.8"/>
<line x1="310.5" y1="510" x2="310.5" y2="560" stroke="#151515" stroke-width="0.8" />
<line x1="313.1" y1="510" x2="313.1" y2="560" stroke="#151515" stroke-width="0.8" />
<line x1="288.6" y1="590" x2="288.6" y2="640" stroke="#151515" stroke-width="0.8" />
<line x1="290.6" y1="590" x2="290.6" y2="640" stroke="#151515" stroke-width="0.8" />
<ellipse cx="286.4" cy="609.8" rx="2.2" ry="2.6" fill="none" stroke="#151515" stroke-width="0.8"/>
<line x1="310.5" y1="570" x2="310.5" y2="610" stroke="#151515" stroke-width="0.8" />
<line x1="313.1" y1="570" x2="313.1" y2="610" stroke="#151515" stroke-width="0.8" />
<line x1="352" y1="510" x2="352" y2="565" stroke="#151515" stroke-width="0.8" />
<line x1="354.4" y1="510" x2="354.4" y2="565" stroke="#151515" stroke-width="0.8" />
<line x1="374" y1="495" x2="374" y2="540" stroke="#151515" stroke-width="0.8" />
<line x1="352" y1="570" x2="352" y2="620" stroke="#151515" stroke-width="0.8" />
<line x1="354.4" y1="570" x2="354.4" y2="620" stroke="#151515" stroke-width="0.8" />
<line x1="374" y1="600" x2="374" y2="650" stroke="#151515" stroke-width="0.8" />
<line x1="376.4" y1="600" x2="376.4" y2="650" stroke="#151515" stroke-width="0.8" />
</g>
<path d="M329.8,359.6 L323.0,366.6 L326.6,367.0 L326.6,375.2 L333.2,376.0 L333.2,367.8 L336.8,368.2 Z" fill="none" stroke="#151515" stroke-width="1.1" stroke-linejoin="round" stroke-linecap="round" />
<path d="M330.2,361.8 L325.8,366.0 L328,366.3 L328,374" fill="none" stroke="#151515" stroke-width="0.6" stroke-linejoin="round" stroke-linecap="round" />
<g transform="matrix(1,0.097,0,1,290,758.6)"><text x="0" y="0" font-family="Liberation Sans, sans-serif" font-size="19.5" font-weight="bold" fill="#9a9a9a" stroke="#222" stroke-width="0.45" textLength="78" lengthAdjust="spacingAndGlyphs">Neomounts</text><rect x="0" y="2.6" width="78.5" height="1.5" fill="#222"/><text x="28.3" y="13" font-family="Liberation Sans, sans-serif" font-size="6.4" font-weight="bold" fill="#000" stroke="#000" stroke-width="0.25" textLength="21.5" lengthAdjust="spacingAndGlyphs">SELECT</text></g>
<line x1="163.7" y1="206" x2="163.7" y2="369" stroke="#2a2a2a" stroke-width="0.9" />
<line x1="498.6" y1="240.2" x2="498.6" y2="405" stroke="#2a2a2a" stroke-width="0.9" />
<line x1="164" y1="207.9" x2="498.2" y2="242.1" stroke="#2a2a2a" stroke-width="0.9" />
<path d="M164,207.9 L182.2,206.6 L181.6,212.8 Z" fill="#111"/>
<path d="M498.2,242.1 L480,243.4 L480.6,237.2 Z" fill="#111"/>
<text transform="translate(295.6 216.6) rotate(5.6)" font-family="Liberation Sans, sans-serif" font-size="20.6" font-weight="normal" fill="#111" text-anchor="start" textLength="73.4" lengthAdjust="spacing" >252mm</text>
<line x1="198.1" y1="243" x2="198.1" y2="377.5" stroke="#2a2a2a" stroke-width="0.9" />
<line x1="461.5" y1="270.6" x2="461.5" y2="407" stroke="#2a2a2a" stroke-width="0.9" />
<line x1="198.5" y1="246.5" x2="461" y2="272.6" stroke="#2a2a2a" stroke-width="0.9" />
<path d="M198.5,246.5 L216.7,245.2 L216.1,251.4 Z" fill="#111"/>
<path d="M461,272.6 L442.8,273.9 L443.4,267.7 Z" fill="#111"/>
<text transform="translate(232.6 244.4) rotate(5.6)" font-family="Liberation Sans, sans-serif" font-size="20.6" font-weight="normal" fill="#111" text-anchor="start" textLength="202" lengthAdjust="spacing" >min100-max200mm</text>
<line x1="52.9" y1="318.3" x2="265.8" y2="339.9" stroke="#2a2a2a" stroke-width="0.9" />
<line x1="52.9" y1="752.8" x2="262" y2="774" stroke="#2a2a2a" stroke-width="0.9" />
<line x1="54.9" y1="319" x2="54.9" y2="752.3" stroke="#2a2a2a" stroke-width="0.9" />
<path d="M54.9,319 L58,337 L51.8,337 Z" fill="#111"/>
<path d="M54.9,752.3 L51.8,734.3 L58,734.3 Z" fill="#111"/>
<text transform="translate(48.9 567.4) rotate(-90)" font-family="Liberation Sans, sans-serif" font-size="20.6" font-weight="normal" fill="#111" text-anchor="start" textLength="73.6" lengthAdjust="spacing" >271mm</text>
<line x1="95.7" y1="380.1" x2="185.3" y2="389.6" stroke="#2a2a2a" stroke-width="0.9" />
<line x1="95.7" y1="700.2" x2="185.3" y2="709.6" stroke="#2a2a2a" stroke-width="0.9" />
<line x1="99" y1="380.8" x2="99" y2="699.6" stroke="#2a2a2a" stroke-width="0.9" />
<path d="M99,380.8 L102.1,398.8 L95.9,398.8 Z" fill="#111"/>
<path d="M99,699.6 L95.9,681.6 L102.1,681.6 Z" fill="#111"/>
<text transform="translate(93.8 640.8) rotate(-90)" font-family="Liberation Sans, sans-serif" font-size="20.6" font-weight="normal" fill="#111" text-anchor="start" textLength="202" lengthAdjust="spacing" >min100-max200mm</text>
<line x1="795.6" y1="145.3" x2="795.6" y2="187.1" stroke="#2a2a2a" stroke-width="0.9" />
<line x1="911.2" y1="157.8" x2="911.2" y2="213.1" stroke="#2a2a2a" stroke-width="0.9" />
<line x1="716.4" y1="141.4" x2="795.6" y2="149.5" stroke="#2a2a2a" stroke-width="0.9" />
<line x1="795.8" y1="149.5" x2="910.8" y2="161.4" stroke="#2a2a2a" stroke-width="0.9" />
<path d="M795.8,149.5 L814,148.3 L813.4,154.4 Z" fill="#111"/>
<path d="M910.8,161.4 L892.6,162.6 L893.2,156.5 Z" fill="#111"/>
<text transform="translate(724 137.4) rotate(5.6)" font-family="Liberation Sans, sans-serif" font-size="20.6" font-weight="normal" fill="#111" text-anchor="start" textLength="60.6" lengthAdjust="spacing" >90mm</text>
<line x1="895.7" y1="197.2" x2="954" y2="203.5" stroke="#2a2a2a" stroke-width="0.9" />
<line x1="899.4" y1="729" x2="954" y2="734.7" stroke="#2a2a2a" stroke-width="0.9" />
<line x1="950.6" y1="204.2" x2="950.6" y2="734" stroke="#2a2a2a" stroke-width="0.9" />
<path d="M950.6,204.2 L953.7,222.2 L947.5,222.2 Z" fill="#111"/>
<path d="M950.6,734 L947.5,716 L953.7,716 Z" fill="#111"/>
<text transform="translate(955.6 438.8) rotate(90)" font-family="Liberation Sans, sans-serif" font-size="20.6" font-weight="normal" fill="#111" text-anchor="start" textLength="73.2" lengthAdjust="spacing" >332mm</text>
<line x1="460" y1="792.9" x2="460" y2="863.6" stroke="#2a2a2a" stroke-width="0.9" />
<line x1="848.7" y1="734.6" x2="848.7" y2="784.8" stroke="#2a2a2a" stroke-width="0.9" />
<line x1="460.3" y1="859.2" x2="848" y2="782.4" stroke="#2a2a2a" stroke-width="0.9" />
<path d="M460.3,859.2 L477.4,852.7 L478.6,858.7 Z" fill="#111"/>
<path d="M848,782.4 L830.9,788.9 L829.7,782.9 Z" fill="#111"/>
<text transform="translate(609 820.9) rotate(-9.8)" font-family="Liberation Sans, sans-serif" font-size="20.6" font-weight="normal" fill="#111" text-anchor="start" textLength="110.2" lengthAdjust="spacing" >47-555mm</text>
<path d="M307.5,329.5 C318,311 345,298.5 366.5,312.0" fill="none" stroke="#2a2a2a" stroke-width="1.1" stroke-linejoin="round" stroke-linecap="round" />
<path d="M303.6,335.8 L306.7,323.1 L313.4,327.1 Z" fill="#111"/>
<path d="M372.6,316 L360,312.5 L364.2,305.9 Z" fill="#111"/>
<text transform="translate(268.6 314.6) rotate(0)" font-family="Liberation Sans, sans-serif" font-size="19.5" font-weight="normal" fill="#111" text-anchor="start" textLength="46.4" lengthAdjust="spacing" >+12°</text>
<text transform="translate(358.6 298.6) rotate(0)" font-family="Liberation Sans, sans-serif" font-size="19.5" font-weight="normal" fill="#111" text-anchor="start" textLength="28.2" lengthAdjust="spacing" >-2°</text>
<path d="M294.5,823 C306,842.5 342,842.5 354.2,823" fill="none" stroke="#2a2a2a" stroke-width="1.1" stroke-linejoin="round" stroke-linecap="round" />
<path d="M285.8,813.4 L298.3,820.1 L292,826.2 Z" fill="#111"/>
<path d="M362.9,813.4 L356.7,826.2 L350.4,820.1 Z" fill="#111"/>
<text transform="translate(309.2 864.2) rotate(0)" font-family="Liberation Sans, sans-serif" font-size="19.5" font-weight="normal" fill="#111" text-anchor="start" textLength="33" lengthAdjust="spacing" >±3°</text>
<text x="19.8" y="984.8" font-family="Liberation Sans, sans-serif" font-size="28.8" fill="#8a8a8a" stroke="#8a8a8a" stroke-width="0.8" stroke-linejoin="round" textLength="144.4" lengthAdjust="spacing">Neomounts</text>
</svg>
</body></html>
